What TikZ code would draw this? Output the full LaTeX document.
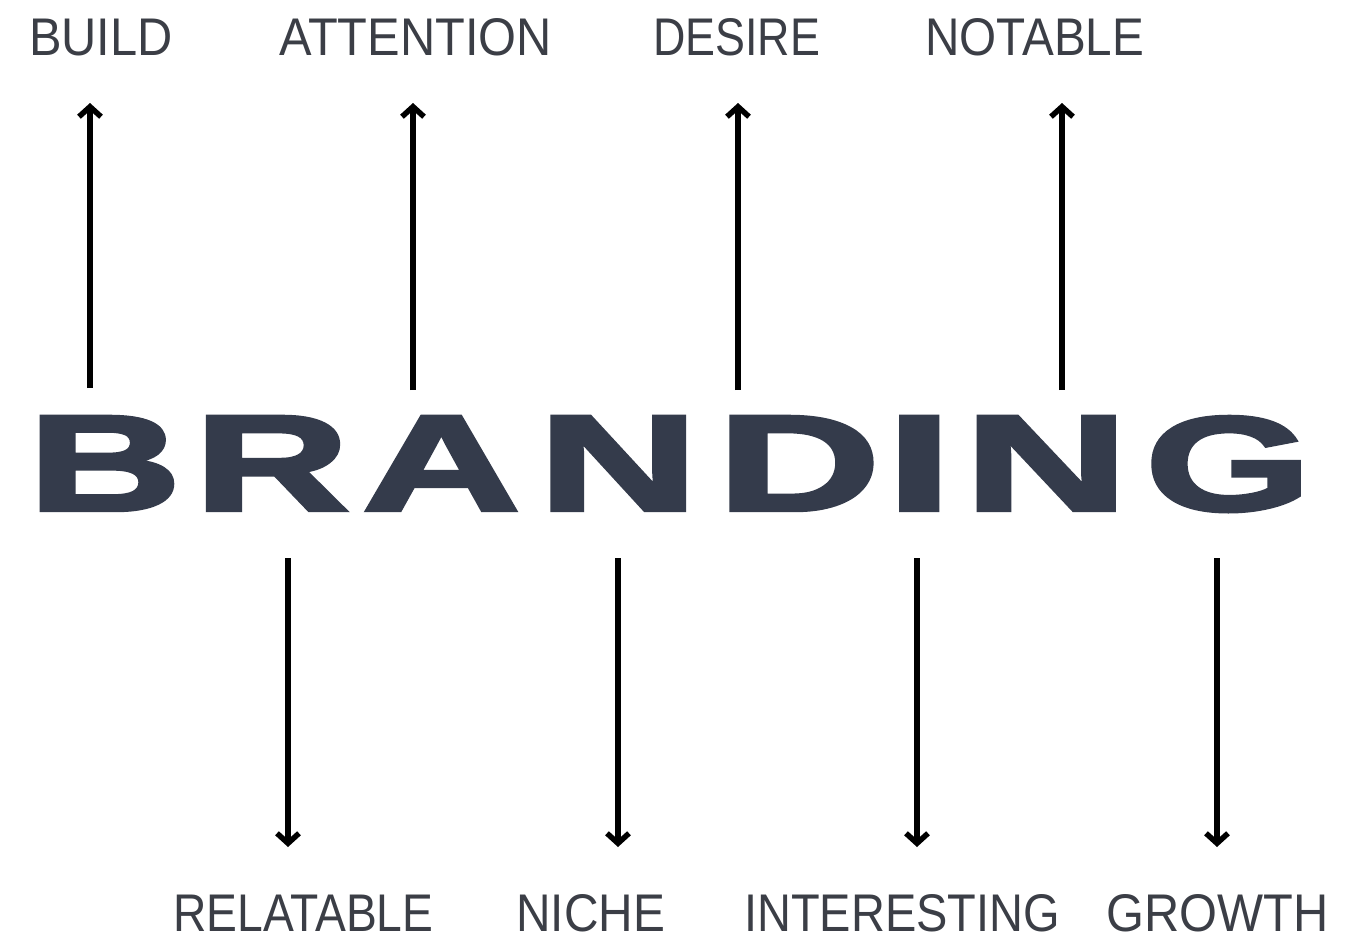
\documentclass[tikz,border=0pt]{standalone}
\usepackage{fontspec}
\usepackage{graphicx}
\setmainfont{Liberation Sans}
\newfontfamily\labelfont[FakeStretch=0.92]{Liberation Sans}
\newfontfamily\lfdesire[FakeStretch=0.846]{Liberation Sans}
\newfontfamily\lfnotable[FakeStretch=0.899]{Liberation Sans}
\newfontfamily\lfrelatable[FakeStretch=0.872]{Liberation Sans}
\newfontfamily\lfniche[FakeStretch=0.902]{Liberation Sans}
\newfontfamily\lfinteresting[FakeStretch=0.886]{Liberation Sans}
\newfontfamily\brandfont[FakeBold=2.5]{Liberation Sans}
\usetikzlibrary{arrows.meta}
\definecolor{labelgray}{HTML}{3B3E46}
\definecolor{brandslate}{HTML}{343B4B}
\newcommand\BLet[3]{\makebox[0pt][l]{\hspace*{#1pt}\resizebox{#2pt}{94pt}{#3}}}
\begin{document}
\begin{tikzpicture}[x=1pt,y=-1pt,
  lbl/.style={anchor=base west, inner sep=0pt, font=\labelfont\fontsize{53}{53}\selectfont, text=labelgray},
  lblf/.style={lbl, font=#1\fontsize{53}{53}\selectfont},
  brand/.style={anchor=base west, inner sep=0pt, font=\brandfont\bfseries, text=brandslate},
  arr/.style={line width=5.5pt, black, -{Straight Barb[length=10pt,width=22pt]}}]
\useasboundingbox (0,0) rectangle (1353,937);
\fill[white] (0,0) rectangle (1353,937);

% main word
\node[brand] (brandword) at (0,510.5) {\BLet{28}{153}{B}\BLet{194}{155}{R}\BLet{362}{158}{A}\BLet{538}{160}{N}\BLet{717}{163}{D}\BLet{886}{66}{I}\BLet{964}{164}{N}\BLet{1145}{166}{G}\hspace*{1311pt}};

% top labels
\node[lbl] (build) at (29,55) {BUILD};
\node[lbl] (attention) at (279,55) {ATTENTION};
\node[lblf=\lfdesire] (desire) at (653,55) {DESIRE};
\node[lblf=\lfnotable] (notable) at (925,55) {NOTABLE};

% bottom labels
\node[lblf=\lfrelatable] (relatable) at (173,931) {RELATABLE};
\node[lblf=\lfniche] (niche) at (516,931) {NICHE};
\node[lblf=\lfinteresting] (interesting) at (744,931) {INTERESTING};
\node[lbl] (growth) at (1106,931) {GROWTH};

% arrow end points
\coordinate (u1s) at (90,388);   \coordinate (u1e) at (90,103);
\coordinate (u2s) at (413,390);  \coordinate (u2e) at (413,103);
\coordinate (u3s) at (738,390);  \coordinate (u3e) at (738,103);
\coordinate (u4s) at (1062,390); \coordinate (u4e) at (1062,103);
\coordinate (d1s) at (288,558);  \coordinate (d1e) at (288,847);
\coordinate (d2s) at (618,558);  \coordinate (d2e) at (618,847);
\coordinate (d3s) at (917,558);  \coordinate (d3e) at (917,847);
\coordinate (d4s) at (1217,558); \coordinate (d4e) at (1217,847);

\draw[arr] (u1s) -- (u1e);
\draw[arr] (u2s) -- (u2e);
\draw[arr] (u3s) -- (u3e);
\draw[arr] (u4s) -- (u4e);
\draw[arr] (d1s) -- (d1e);
\draw[arr] (d2s) -- (d2e);
\draw[arr] (d3s) -- (d3e);
\draw[arr] (d4s) -- (d4e);
\end{tikzpicture}
\end{document}
